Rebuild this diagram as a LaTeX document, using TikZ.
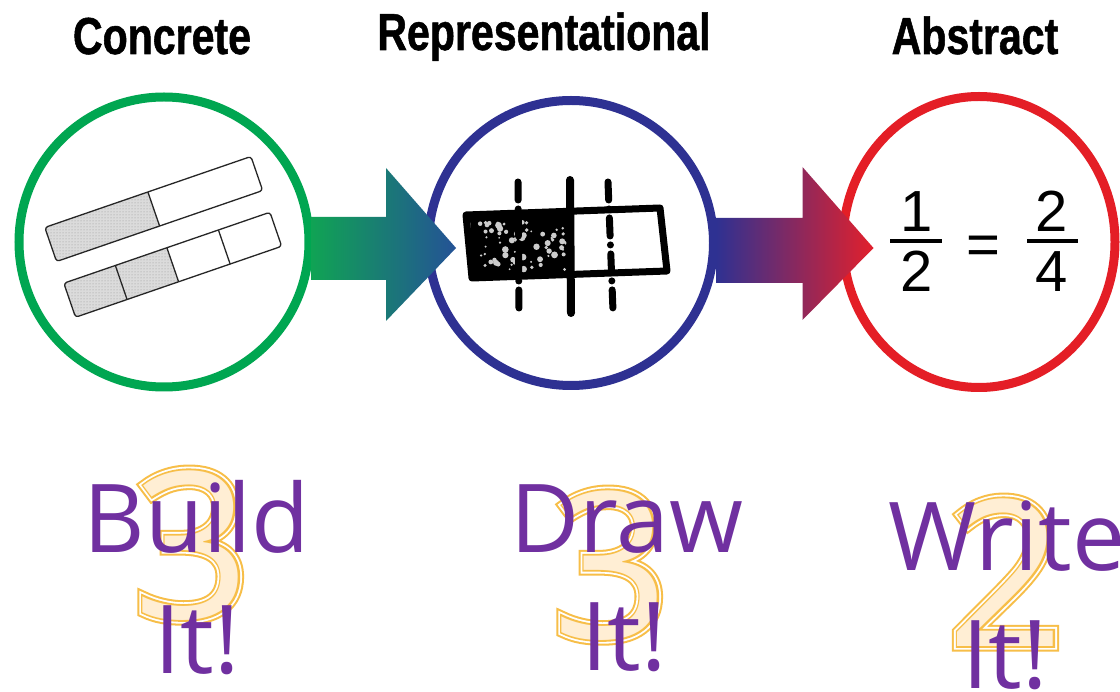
\documentclass[tikz,border=0pt]{standalone}
\usepackage{fontspec}
\usetikzlibrary{calc,patterns,shapes.geometric}

\setmainfont{Open Sans}
\newfontfamily\headfont{Liberation Sans}[FakeStretch=0.79,FakeBold=1]
\newfontfamily\fracfont{Liberation Sans}
% layers of the big outlined digits
\newfontfamily\numouter{Open Sans}[FakeBold=5.6]
\newfontfamily\numgap{Open Sans}[FakeBold=3.6]
\newfontfamily\numinner{Open Sans}[FakeBold=1.8]
\newfontfamily\numbody{Open Sans}

\definecolor{cragreen}{RGB}{0,166,81}
\definecolor{crablue}{RGB}{46,49,146}
\definecolor{crared}{RGB}{228,30,38}
\definecolor{arrowgreen}{RGB}{16,163,84}
\definecolor{arrowteal}{RGB}{36,82,150}
\definecolor{arrowplum}{RGB}{140,42,104}
\definecolor{arrowred}{RGB}{226,32,44}
\definecolor{slogan}{RGB}{112,48,160}
\definecolor{numline}{RGB}{247,190,72}
\definecolor{numfill}{RGB}{255,238,212}

\tikzset{
  stage/.style={circle, line width=9pt, minimum size=#1, inner sep=0pt},
  heading/.style={anchor=base, inner sep=0pt, font=\headfont\bfseries\fontsize{52}{60}\selectfont},
  saying/.style={anchor=base, inner sep=0pt, text=slogan, font=\fontsize{95}{110}\selectfont},
  numeral/.style={anchor=base, inner sep=0pt, font=\fontsize{204}{204}\selectfont},
  digit/.style={anchor=base, inner sep=0pt, font=\fracfont\fontsize{58}{60}\selectfont},
  fracbar/.style={line width=3.5pt},
  stripbox/.style={draw=black!85, line width=1.3pt, rounded corners=3pt},
  shadedpart/.style={fill=gray!28, postaction={pattern=dots, pattern color=gray!85}},
  sketch/.style={line width=7pt, line cap=round, line join=round},
  dashsketch/.style={sketch, dash pattern=on 18pt off 9pt on 0pt off 9pt},
}

\begin{document}
\begin{tikzpicture}[x=1pt, y=-1pt]
  \useasboundingbox (0,0) rectangle (1120,692);
  \clip (0,0) rectangle (1120,692);
  \fill[white] (0,0) rectangle (1120,692);

  % big digits behind the sayings
  \foreach \f/\c in {\numouter/numline, \numgap/white, \numinner/numline, \numbody/numfill} {
    \node[numeral, text=\c] (buildnum) at (192,618) {\f 3};
    \node[numeral, text=\c] (drawnum) at (611,638) {\f 3};
    \node[numeral, text=\c] (writenum) at (1006,646) {\f 2};
  }

  % headings
  \node[heading] (concretelabel) at (162,54) {Concrete};
  \node[heading] (representlabel) at (544,50) {Representational};
  \node[heading] (abstractlabel) at (975,54) {Abstract};

  % the three stages
  \node[stage=290pt, draw=cragreen] (concrete) at (164,242) {};
  \node[stage=285pt, draw=crablue] (represent) at (571,243) {};
  \node[ellipse, line width=9pt, inner sep=0pt, minimum width=272pt,
        minimum height=291pt, draw=crared] (abstract) at (979,242) {};

  % arrows between stages
  \shade[left color=arrowgreen, right color=arrowteal]
    ($(concrete.east)+(-2,-25)$) -| ($(represent.west)+(-38,-75)$)
    -- ($(represent.west)+(32,5)$) -- ($(represent.west)+(-38,78)$)
    |- ($(concrete.east)+(-2,38)$) -- cycle;
  \shade[left color=crablue, middle color=arrowplum, right color=arrowred]
    ($(represent.east)+(-2,-25)$) -| ($(abstract.west)+(-36,-75)$)
    -- ($(abstract.west)+(35,6)$) -- ($(abstract.west)+(-36,78)$)
    |- ($(represent.east)+(-2,40)$) -- cycle;

  % fraction strips
  \begin{scope}[shift={(153.75,209)}, rotate=19]
    \begin{scope}
      \clip[rounded corners=3pt] (-109,-18) rectangle (109,18);
      \fill[shadedpart] (-109,-18) rectangle (0,18);
    \end{scope}
    \draw[stripbox, fill=none] (-109,-18) rectangle (109,18);
    \draw[stripbox] (0,-18) -- (0,18);
  \end{scope}
  \begin{scope}[shift={(172.75,264.75)}, rotate=19]
    \begin{scope}
      \clip[rounded corners=3pt] (-109,-18) rectangle (109,18);
      \fill[shadedpart] (-109,-18) rectangle (0,18);
    \end{scope}
    \draw[stripbox] (-109,-18) rectangle (109,18);
    \foreach \d in {-54.5,0,54.5}
      \draw[stripbox] (\d,-18) -- (\d,18);
  \end{scope}

  % hand drawn strip
  \fill[black] (470,215) -- (573,214) -- (573,275) -- (472,278) -- cycle;
  \pgfmathsetseed{42}
  \foreach \i in {1,...,70} {
    \pgfmathsetmacro\sx{478+88*rnd}
    \pgfmathsetmacro\sy{222+48*rnd}
    \pgfmathsetmacro\sr{0.8+2.6*rnd}
    \fill[white!80!black] (\sx,\sy) circle[radius=\sr pt];
  }
  \draw[sketch] (466,215) -- (660,208) -- (667,271) -- (472,278) -- cycle;
  \draw[sketch, line width=8pt] (570,180) -- (571,313);
  \draw[dashsketch] (518,182) -- (519,311);
  \draw[dashsketch] (608,182) -- (613,311);

  % one half equals two quarters
  \node[digit] (numa) at (917,232) {1};
  \node[digit] (dena) at (917,292) {2};
  \draw[fracbar] (890,241) -- (942,241);
  \node[digit] (equals) at (983,265) {=};
  \node[digit] (numb) at (1052,232) {2};
  \node[digit] (denb) at (1052,292) {4};
  \draw[fracbar] (1027,241) -- (1078,241);

  % sayings
  \node[saying] (build) at (197,553) {Build};
  \node[saying] (buildit) at (197,673) {It!};
  \node[saying] (draw) at (627,552) {Draw};
  \node[saying] (drawit) at (624,670) {It!};
  \node[saying] (write) at (1007,570) {Write};
  \node[saying] (writeit) at (1005,688) {It!};
\end{tikzpicture}
\end{document}
